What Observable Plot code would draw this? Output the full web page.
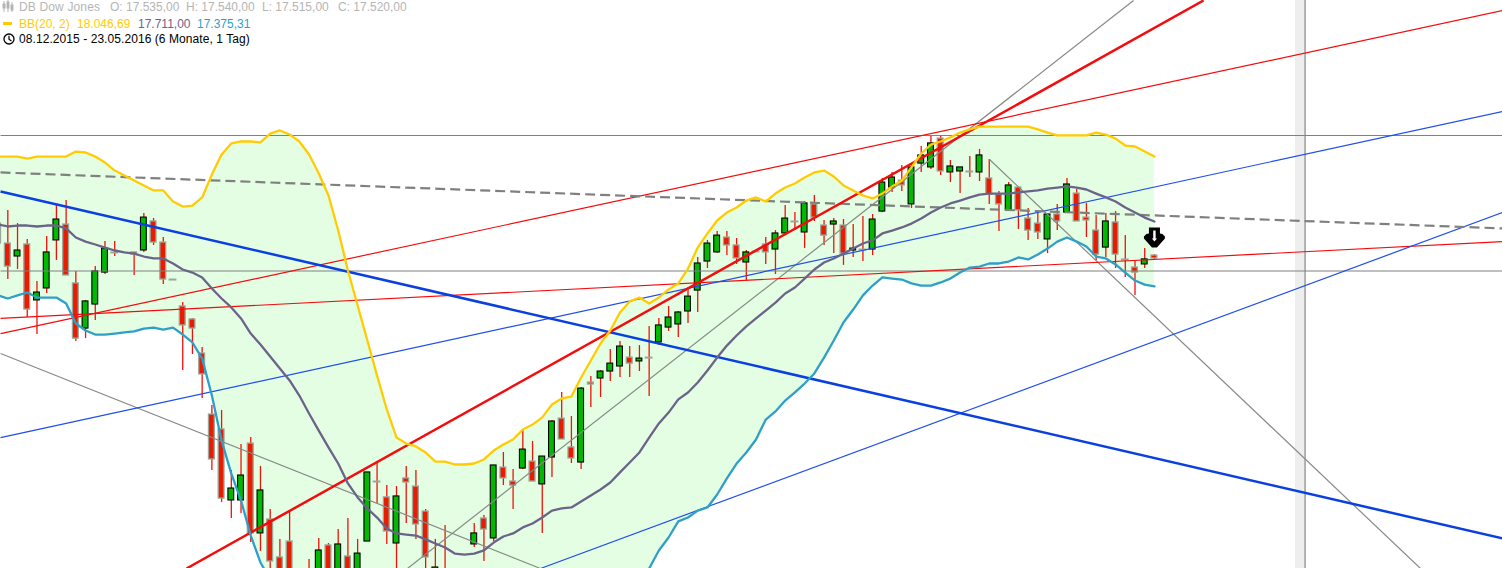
<!DOCTYPE html>
<html lang="de">
<head>
<meta charset="utf-8">
<script src="https://cdn.jsdelivr.net/npm/d3@7"></script>
<script src="https://cdn.jsdelivr.net/npm/@observablehq/plot@0.6"></script>
<style>
html,body{margin:0;padding:0;background:#fff;overflow:hidden;width:1502px;height:568px}
#chart{position:absolute;left:0;top:0}
.hd{position:absolute;font:12px "Liberation Sans",Arial,sans-serif;white-space:nowrap;line-height:14px}
.ic{position:absolute}
</style>
</head>
<body>
<div id="chart"></div>
<svg class="ic" style="left:2px;top:0" width="12" height="14" viewBox="0 0 12 14">
  <g stroke="#b5b5b5" fill="#b5b5b5"><path d="M2 1V12M6 0V12M10 2V12" stroke-width="1"/><rect x="1" y="4" width="2" height="4"/><rect x="5" y="2" width="2" height="6"/><rect x="9" y="5" width="2" height="5"/></g>
</svg>
<svg class="ic" style="left:3px;top:22px" width="10" height="3"><rect width="9" height="3" fill="#ffcc00"/></svg>
<svg class="ic" style="left:3px;top:33px" width="12" height="12" viewBox="0 0 12 12"><circle cx="6" cy="6" r="5" fill="none" stroke="#000" stroke-width="1.3"/><path d="M6 2.8V6.2L8.4 8" fill="none" stroke="#000" stroke-width="1.2"/></svg>
<div id="header"></div>
<script>
const title = "DB Dow Jones";
const quote = ["O: 17.535,00", "H: 17.540,00", "L: 17.515,00", "C: 17.520,00"];
const bbLabel = "BB(20, 2)";
const bbValues = ["18.046,69", "17.711,00", "17.375,31"];
const period = "08.12.2015 - 23.05.2016 (6 Monate, 1 Tag)";

const open = [
17700,17597,17530,17592,17303,17365,17613,17695,17391,17158,
17282,17447,17551,null,17551,17561,17711,17602,17411,17272,
17205,17029,16714,16637,16270,16270,16564,16100,16172,15976,
16058,null,15883,15805,16038,15805,15981,15805,16058,16368,
16286,16048,16384,16342,16213,15800,15900,null,null,16043,
16177,16074,16440,16368,16435,16471,16353,16492,16693,16544,
16466,16879,16900,16936,16962,17008,16988,17008,17086,17163,
17179,17246,17354,17504,17551,17628,17587,17499,17556,17592,
17566,17649,17711,17654,17799,17690,17695,17690,17561,17566,
17566,17762,17886,17922,17799,18010,17990,18139,17964,17969,
17969,17964,17933,17850,17768,17886,17726,17700,17618,17747,
17757,17855,17731,17664,17576,17706,17515,17473,17489,17535];
const high = [
17757,17768,17700,17618,17401,17633,17793,17819,17453,17303,
17478,17607,17607,null,17551,17752,17726,17628,17411,17292,
17210,17060,16761,16735,16425,16559,16595,16446,16224,16069,
16218,null,15965,16074,16048,16120,16177,16069,16415,16466,
16347,16342,16446,16425,16224,16069,16141,null,null,16151,
16193,16451,16518,16430,16631,16575,16497,16683,16828,16704,
16854,16910,16941,17050,17091,17065,17070,17169,17210,17272,
17246,17370,17525,17613,17659,17659,17623,17561,17556,17628,
17664,17793,17757,17814,17845,17716,17726,17721,17695,17737,
17747,17933,17964,18000,18005,18098,18155,18150,18026,17990,
18046,18083,18031,17866,17912,17886,17778,17762,17747,17799,
17933,17876,17804,17742,17752,17762,17638,17509,17571,17540];
const low = [
17561,17411,17463,17215,17127,17339,17509,17432,17091,17106,
17199,17437,17530,null,17432,17551,17587,17385,17411,16941,
17024,16797,16425,16260,16177,16203,16053,16007,15909,15754,
15702,null,15702,15754,15754,15754,15754,15754,16058,16255,
16043,15857,16151,16069,15857,15800,15754,null,null,16027,
15955,16058,16347,16224,16430,16368,16100,16389,16585,16461,
16430,16750,16802,16885,16905,16905,16936,16807,17070,17143,
17112,17184,17241,17468,17545,17535,17489,17406,17556,17489,
17437,17649,17664,17571,17711,17587,17545,17484,17525,17504,
17535,17757,17861,17866,17778,17964,17979,17948,17912,17855,
17938,17917,17799,17659,17768,17669,17613,17618,17545,17664,
17757,17711,17628,17509,17525,17468,17422,17329,17468,17515];
const close = [
17597,17478,17561,17256,17344,17551,17721,17432,17106,17298,
17453,17571,17551,null,17540,17731,17602,17411,17411,17174,
17158,16921,16482,16280,16332,16399,16100,16322,15955,15805,
15754,null,15754,16012,15831,16043,15831,15996,16415,16368,
16110,16291,16363,16146,15976,15924,15800,null,null,16100,
16120,16451,16384,16347,16533,16368,16497,16678,16585,16487,
16848,16869,16936,16977,17065,16977,17003,17008,17174,17215,
17241,17323,17494,17597,17638,17587,17520,17551,17556,17551,
17649,17726,17711,17804,17731,17638,17711,17545,17571,17566,
17721,17912,17938,17897,17990,18052,18114,17969,17995,17990,
17969,18052,17850,17799,17897,17768,17664,17654,17747,17711,
17902,17711,17716,17540,17711,17540,17515,17447,17515,17520];

const bbUpper = [
18046,18046,18046,18036,18046,18046,18046,18046,18072,18067,
18046,18015,17974,17948,17922,17897,17871,17871,17814,17788,
17793,17835,17953,18057,18114,18124,18124,18119,18165,18181,
18160,18124,18057,17959,17845,17664,17458,17277,17096,16915,
16740,16595,16564,16549,16518,16471,16471,16456,16456,16461,
16482,16528,16559,16585,16637,16662,16699,16766,16797,16807,
16905,16993,17081,17148,17241,17298,17318,17287,17318,17360,
17391,17468,17576,17649,17716,17757,17783,17819,17835,17814,
17855,17886,17907,17938,17964,17974,17943,17897,17871,17845,
17830,17855,17892,17922,17990,18062,18108,18124,18145,18170,
18186,18201,18201,18201,18201,18201,18201,18186,18170,18155,
18155,18155,18155,18170,18160,18139,18103,18098,18072,18046.69];
const bbMiddle = [
17695,17685,17690,17690,17685,17690,17690,17675,17628,17607,
17592,17576,17561,17551,17545,17530,17520,17520,17494,17463,
17447,17422,17365,17313,17267,17210,17132,17076,17014,16952,
16890,16812,16719,16631,16544,16461,16358,16286,16229,16182,
16125,16100,16094,16089,16069,16048,16027,15996,15991,15996,
16012,16053,16084,16100,16131,16151,16182,16218,16229,16234,
16265,16296,16327,16363,16415,16466,16518,16595,16668,16724,
16792,16828,16879,16941,17008,17070,17122,17169,17210,17251,
17292,17339,17370,17416,17463,17499,17520,17545,17571,17597,
17613,17649,17664,17680,17700,17726,17757,17783,17804,17819,
17835,17850,17855,17855,17855,17861,17866,17871,17881,17886,
17892,17886,17876,17855,17835,17814,17783,17757,17731,17711];
const bbLower = [
17329,17313,17329,17344,17318,17318,17318,17287,17184,17148,
17127,17127,17132,17138,17143,17158,17163,17153,17163,17127,
17086,17003,16812,16580,16409,16270,16089,15950,15862,15723,
15619,15501,15382,15304,15242,15258,15258,15294,15361,15449,
15511,15604,15624,15630,15619,15624,15583,15537,15526,15532,
15542,15578,15609,15614,15624,15640,15666,15671,15661,15661,
15624,15599,15573,15578,15588,15635,15717,15919,16012,16079,
16162,16182,16218,16234,16301,16384,16461,16518,16585,16688,
16730,16786,16828,16874,16926,17008,17096,17189,17256,17329,
17380,17422,17416,17411,17391,17380,17380,17396,17416,17447,
17473,17478,17494,17494,17504,17525,17515,17540,17571,17607,
17628,17607,17582,17530,17520,17489,17447,17406,17385,17375.31];

// trend lines: [bar1, price1, bar2, price2]
const thickBlue  = [[0.25,17866,154.82,16074]];
const thickRed   = [[19.39,15919,124.05,18852]];
const thinBlue   = [[0.25,16595,154.82,18279],[55.82,15919,154.82,17757]];
const thinRed    = [[0.25,17132,154.82,18800],[0.25,17210,154.82,17607]];
const levels     = [[0.25,18155,154.82,18155],[0.25,17455,154.82,17455]];
const resistance = [[0.25,17964,154.82,17675]];
const thinGray   = [[42.13,15919,116.85,18852],[0.25,17029,55.82,15919],[102.03,18031,146.38,15919]];
const cursorBar = [134.5];
const cursorBand = [[133.52,134.47]];
const signalBar = 119;
const signalPrice = 17628;

const xDomain = [0.247,154.82];
const yDomain = [15918.85,18852];
const colors = {up:"#00b800",down:"#e81c00",wick:"#f01208",upEdge:"#000",downEdge:"#9aa79a",
  band:"#e4fee4",yellow:"#ffcc00",mid:"#6b6488",low:"#2f9fc9",gray:"#808080",thin:"#858b85",
  blue:"#0a3fe0",thinBlue:"#1f4fe8",red:"#f40c0c",cursor:"#eeeeee"};

const bars = open.map((o,i)=>({i,o,h:high[i],l:low[i],c:close[i]})).filter(d=>d.o!=null);
const bb = bbUpper.map((u,i)=>({i,u,m:bbMiddle[i],l:bbLower[i]}));
const upBars = bars.filter(d=>d.c>d.o), downBars = bars.filter(d=>d.c<d.o), doji = bars.filter(d=>d.c===d.o);
const seg = (rows,opts)=>Plot.link(rows,{x1:d=>d[0],y1:d=>d[1],x2:d=>d[2],y2:d=>d[3],clip:true,...opts});
const bw = 0.3;
const arrowBlob = {draw(c){c.moveTo(-5.5,-10);c.lineTo(5.5,-10);c.lineTo(5.5,-4);c.lineTo(8,-3.5);c.lineTo(10.5,-1);c.lineTo(10.5,1);c.lineTo(2.5,10);c.lineTo(-2.5,10);c.lineTo(-10.5,1);c.lineTo(-10.5,-1);c.lineTo(-8,-3.5);c.lineTo(-5.5,-4);c.closePath();}};
const arrowWhite = {draw(c){c.moveTo(-1.2,-7);c.lineTo(1.2,-7);c.lineTo(1.2,1);c.lineTo(2.6,1);c.lineTo(0,4);c.lineTo(-2.6,1);c.lineTo(-1.2,1);c.closePath();}};

const plot = Plot.plot({
  width:1502,height:568,margin:0,
  x:{type:"linear",domain:xDomain,range:[0,1502],axis:null},
  y:{type:"linear",domain:yDomain,range:[568,0],axis:null},
  marks:[
    Plot.areaY(bb,{x:"i",y1:"l",y2:"u",fill:colors.band,clip:true}),
    Plot.rect(cursorBand,{x1:d=>d[0],x2:d=>d[1],y1:yDomain[0],y2:yDomain[1],fill:colors.cursor}),
    Plot.ruleX(cursorBar,{x:d=>d,stroke:colors.gray,strokeWidth:1.2}),
    Plot.ruleX(bars,{x:"i",y1:"l",y2:"h",stroke:colors.wick,strokeWidth:1.3,clip:true}),
    Plot.rect(downBars,{x1:d=>d.i-bw,x2:d=>d.i+bw,y1:"o",y2:"c",fill:colors.down,stroke:colors.downEdge,strokeWidth:1.3,clip:true}),
    Plot.rect(upBars,{x1:d=>d.i-bw,x2:d=>d.i+bw,y1:"o",y2:"c",fill:colors.up,stroke:colors.upEdge,strokeWidth:1.1,clip:true}),
    Plot.ruleY(doji,{y:"c",x1:d=>d.i-0.4,x2:d=>d.i+0.4,stroke:colors.downEdge,strokeWidth:2}),
    seg(levels,{stroke:colors.gray,strokeWidth:1.1}),
    seg(thinGray,{stroke:colors.thin,strokeWidth:1.2}),
    seg(thinRed,{stroke:colors.red,strokeWidth:1.2}),
    seg(thinBlue,{stroke:colors.thinBlue,strokeWidth:1.2}),
    seg(resistance,{stroke:colors.gray,strokeWidth:2.2,strokeDasharray:"10 5"}),
    seg(thickBlue,{stroke:colors.blue,strokeWidth:2.5}),
    seg(thickRed,{stroke:colors.red,strokeWidth:2.5}),
    Plot.lineY(bb,{x:"i",y:"l",stroke:colors.low,strokeWidth:2.3,clip:true}),
    Plot.lineY(bb,{x:"i",y:"m",stroke:colors.mid,strokeWidth:2.3,clip:true}),
    Plot.lineY(bb,{x:"i",y:"u",stroke:colors.yellow,strokeWidth:2.3,clip:true}),
    Plot.dot([signalBar],{x:d=>d,y:()=>signalPrice,symbol:arrowBlob,r:10,fill:"#000",stroke:"none"}),
    Plot.dot([signalBar],{x:d=>d,y:()=>signalPrice,symbol:arrowWhite,r:10,fill:"#fff",stroke:"none"})
  ]
});
document.getElementById("chart").append(plot);

const hd = document.getElementById("header");
const put = (txt,x,y,color,ls)=>{const s=document.createElement("div");s.className="hd";s.textContent=txt;s.style.left=x+"px";s.style.top=y+"px";s.style.color=color;if(ls)s.style.letterSpacing=ls+"px";hd.append(s);};
put(title,19,0,"#b5b5b5",0.15);
[110,186,262,338].forEach((x,i)=>put(quote[i],x,0,"#b5b5b5"));
put(bbLabel,19,17,"#ffcc00");
put(bbValues[0],77,17,"#ffcc00");
put(bbValues[1],138,17,colors.mid);
put(bbValues[2],197,17,colors.low);
put(period,19,32,"#000",0.07);
</script>
</body>
</html>
